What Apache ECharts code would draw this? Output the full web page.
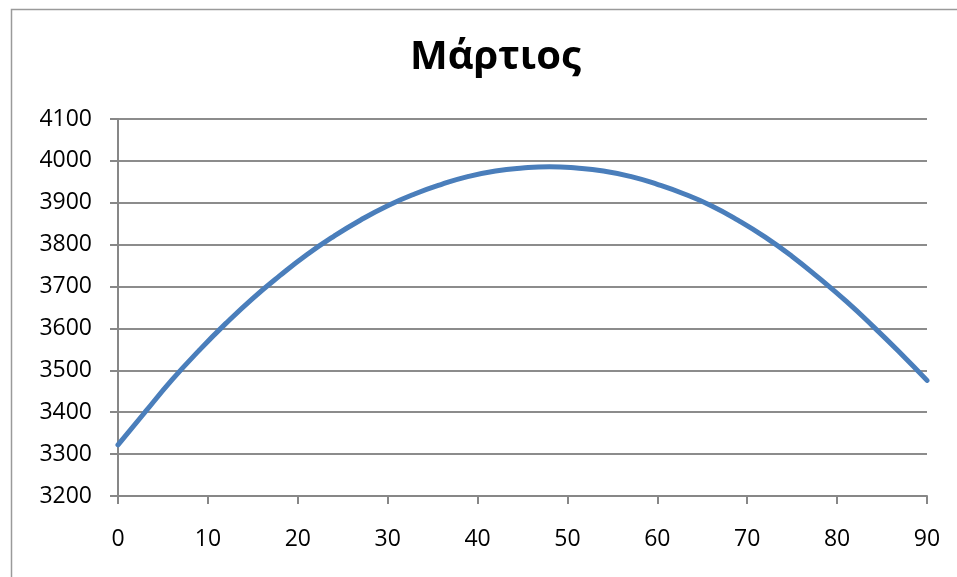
<!DOCTYPE html>
<html>
<head>
<meta charset="utf-8">
<script src="https://cdn.jsdelivr.net/npm/echarts@6/dist/echarts.min.js"></script>
<style>
html,body{margin:0;padding:0;background:#fff;}
#chart{width:957px;height:577px;}
</style>
</head>
<body>
<div id="chart"></div>
<script>
var titleText = "Μάρτιος";
var xValues = [0, 3, 6, 9, 12, 15, 18, 21, 24, 27, 30, 33, 36, 39, 42, 45, 48, 51, 54, 57, 60, 63, 66, 69, 72, 75, 78, 81, 84, 87, 90];
var yValues = [3322, 3400, 3477, 3547, 3612, 3672, 3726, 3776, 3820, 3859, 3893, 3921, 3944, 3963, 3976, 3983, 3986, 3983, 3976, 3963, 3944, 3921, 3893, 3858, 3818, 3772, 3720, 3665, 3605, 3542, 3476];
var yMin = 3200, yMax = 4100, yStep = 100;
var xMin = 0, xMax = 90, xStep = 10;

var points = xValues.map(function (x, i) { return [x, yValues[i]]; });
var font = "'Open Sans', 'Liberation Sans', sans-serif";
var chart = echarts.init(document.getElementById('chart'), null, {renderer: 'canvas'});
chart.setOption({
  animation: false,
  backgroundColor: '#ffffff',
  graphic: [{
    type: 'rect', left: 9, top: 7, silent: true,
    shape: {width: 1000, height: 1000},
    style: {fill: 'none', stroke: '#9a9a9a', lineWidth: 1.5}
  }],
  title: {
    text: titleText, left: 405, top: 33,
    textStyle: {fontFamily: font, fontSize: 40, fontWeight: 'bold', color: '#000'}
  },
  grid: {left: 118, right: 30, top: 119, bottom: 81, containLabel: false},
  xAxis: {
    type: 'value', min: xMin, max: xMax, interval: xStep,
    axisLine: {show: true, lineStyle: {color: '#878787', width: 2}},
    axisTick: {show: true, length: 8, lineStyle: {color: '#878787', width: 2}},
    axisLabel: {margin: 32, fontFamily: font, fontSize: 23, color: '#000',
      formatter: function (v) { return String(v); }},
    splitLine: {show: false}
  },
  yAxis: {
    type: 'value', min: yMin, max: yMax, interval: yStep,
    axisLine: {show: true, lineStyle: {color: '#878787', width: 2}},
    axisTick: {show: true, length: 8, lineStyle: {color: '#878787', width: 2}},
    axisLabel: {margin: 26, fontFamily: font, fontSize: 23, color: '#000',
      formatter: function (v) { return String(v); }},
    splitLine: {show: true, lineStyle: {color: '#8c8c8c', width: 2}}
  },
  series: [{
    type: 'line', data: points, smooth: true, showSymbol: false,
    lineStyle: {color: '#4a7ebb', width: 5, cap: 'round'}
  }]
});
</script>
</body>
</html>
